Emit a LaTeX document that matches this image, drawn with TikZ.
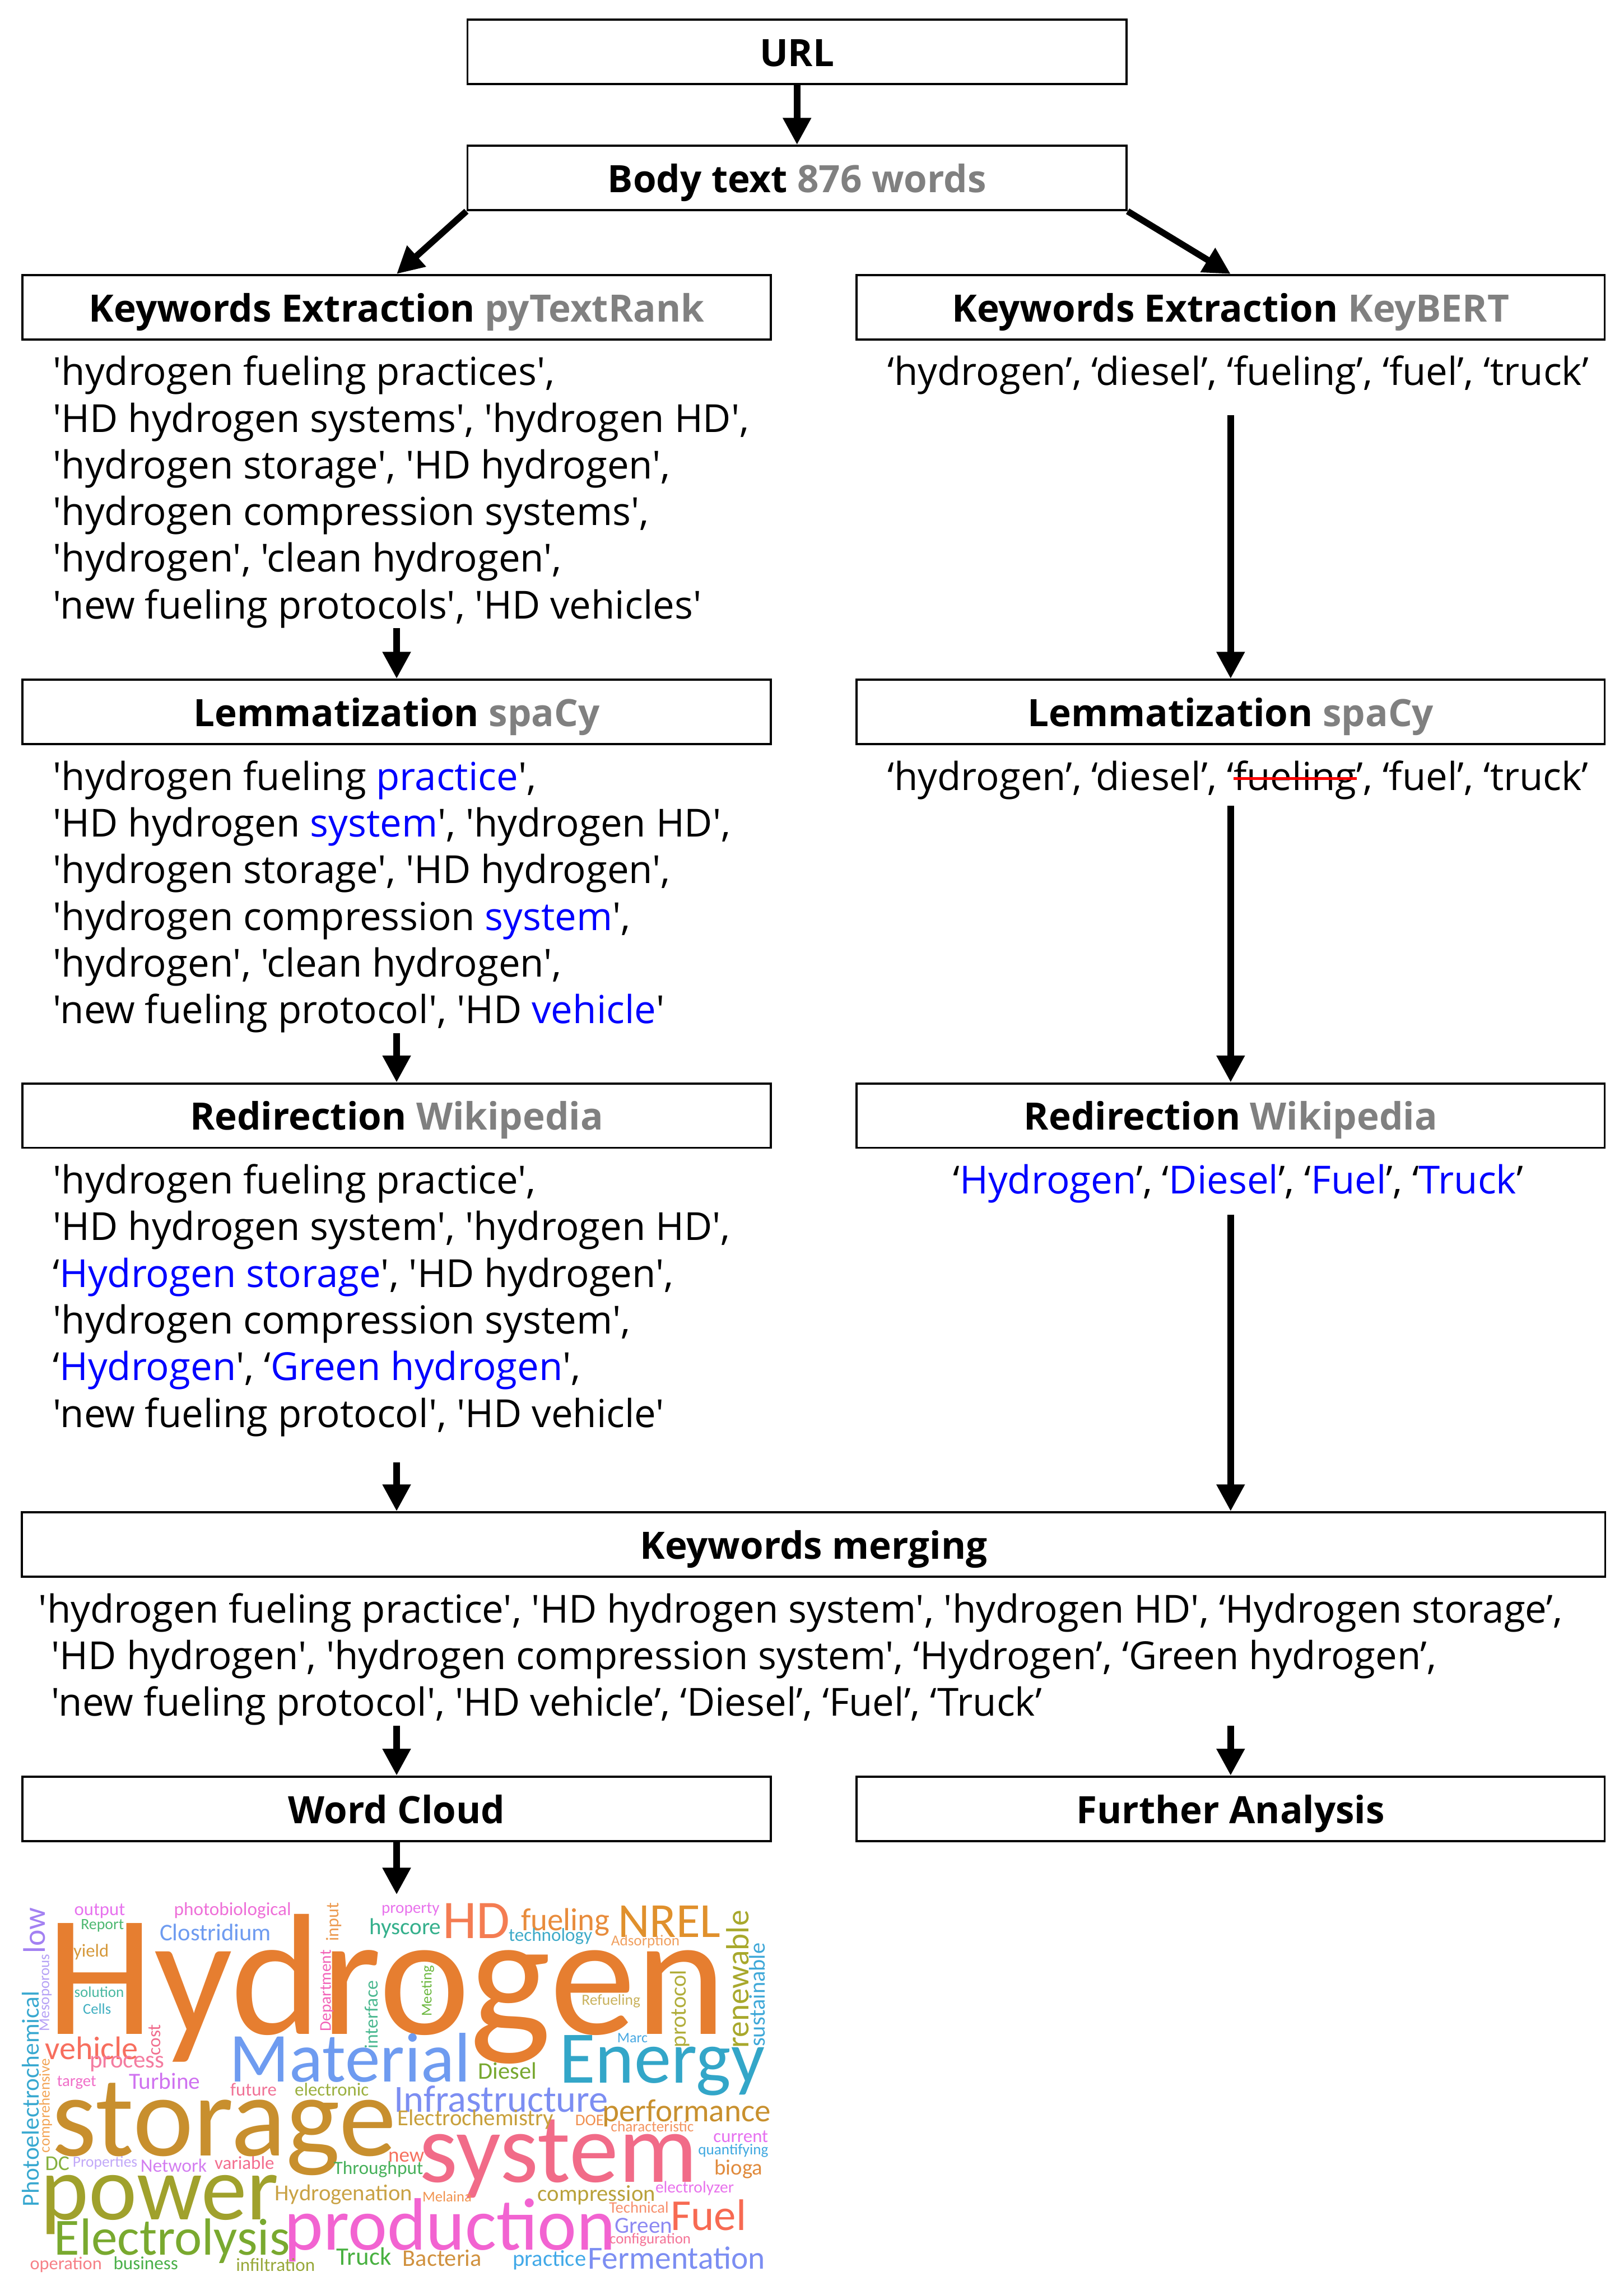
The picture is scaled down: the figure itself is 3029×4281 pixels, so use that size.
\documentclass[tikz,border=0pt]{standalone}
\usepackage{fontspec}
\usepackage{graphicx}
\usepackage{tikz}
\usetikzlibrary{positioning,arrows.meta}
\usepackage{xcolor}

\newfontfamily\uifont{Open Sans}
\newfontfamily\cloudfont{Carlito}

\definecolor{toolgray}{HTML}{808080}
\definecolor{chgblue}{HTML}{0000FF}
\definecolor{dropred}{HTML}{FF0000}

\newsavebox\dropbox
\newcommand{\toolname}[1]{\textcolor{toolgray}{#1}}
\newcommand{\renamed}[1]{\textcolor{chgblue}{#1}}
\newcommand{\dropped}[1]{\sbox\dropbox{#1}{\color{dropred}\rlap{\usebox\dropbox}\rule[0.27em]{\wd\dropbox}{0.06em}}}

\newlength\cloudpx
\setlength\cloudpx{0.0103cm}

\begin{document}
\begin{tikzpicture}[x=0.01cm, y=-0.01cm,
    stepbox/.style={draw, line width=0.04cm, minimum width=13.95cm, minimum height=1.2cm, inner sep=0,
        text height=0.6cm, text depth=0.06cm,
        font=\uifont\bfseries\fontsize{20pt}{24pt}\selectfont},
    kwtext/.style={inner sep=0, align=left, font=\uifont\fontsize{20.5pt}{24.75pt}\selectfont},
    arr/.style={line width=0.12cm, -{Triangle[length=0.5cm,width=0.5cm]}},
    cloudword/.style={inner sep=0, font=\cloudfont}]

    \useasboundingbox (0,0) rectangle (3029,4281);

    % Input
    \node[stepbox, minimum width=12.29cm] (url) at (1487,97) {URL};
    \node[stepbox, minimum width=12.29cm] (body) at (1487,332) {Body text \toolname{876 words}};

    % Keyword extraction
    \node[stepbox] (kwL) at (740,573) {Keywords Extraction \toolname{pyTextRank}};
    \node[stepbox] (kwR) at (2296,573) {Keywords Extraction \toolname{KeyBERT}};

    \node[kwtext, below=0.28cm of kwL.south west, anchor=north west, xshift=0.58cm] (kwtextL) {%
        'hydrogen fueling practices',\\
        'HD hydrogen systems', 'hydrogen HD',\\
        'hydrogen storage', 'HD hydrogen',\\
        'hydrogen compression systems',\\
        'hydrogen', 'clean hydrogen',\\
        'new fueling protocols', 'HD vehicles'};
    \node[kwtext, below=0.28cm of kwR, xshift=0.14cm] (kwtextR) {‘hydrogen’, ‘diesel’, ‘fueling’, ‘fuel’, ‘truck’};

    % Lemmatization
    \node[stepbox] (lemL) at (740,1328) {Lemmatization \toolname{spaCy}};
    \node[stepbox] (lemR) at (2296,1328) {Lemmatization \toolname{spaCy}};

    \node[kwtext, below=0.28cm of lemL.south west, anchor=north west, xshift=0.58cm] (lemtextL) {%
        'hydrogen fueling \renamed{practice}',\\
        'HD hydrogen \renamed{system}', 'hydrogen HD',\\
        'hydrogen storage', 'HD hydrogen',\\
        'hydrogen compression \renamed{system}',\\
        'hydrogen', 'clean hydrogen',\\
        'new fueling protocol', 'HD \renamed{vehicle}'};
    \node[kwtext, below=0.28cm of lemR, xshift=0.14cm] (lemtextR) {‘hydrogen’, ‘diesel’, ‘\dropped{fueling}’, ‘fuel’, ‘truck’};

    % Redirection
    \node[stepbox] (redL) at (740,2081) {Redirection \toolname{Wikipedia}};
    \node[stepbox] (redR) at (2296,2081) {Redirection \toolname{Wikipedia}};

    \node[kwtext, below=0.28cm of redL.south west, anchor=north west, xshift=0.58cm] (redtextL) {%
        'hydrogen fueling practice',\\
        'HD hydrogen system', 'hydrogen HD',\\
        ‘\renamed{Hydrogen storage}', 'HD hydrogen',\\
        'hydrogen compression system',\\
        ‘\renamed{Hydrogen}', ‘\renamed{Green hydrogen}',\\
        'new fueling protocol', 'HD vehicle'};
    \node[kwtext, below=0.28cm of redR, xshift=0.14cm] (redtextR) {‘\renamed{Hydrogen}’, ‘\renamed{Diesel}’, ‘\renamed{Fuel}’, ‘\renamed{Truck}’};

    % Merging
    \node[stepbox, minimum width=29.52cm] (merge) at (1518,2881) {Keywords merging};
    \node[kwtext, below=0.28cm of merge.south west, anchor=north west, xshift=0.32cm] (mtext) {%
        'hydrogen fueling practice', 'HD hydrogen system', 'hydrogen HD', ‘Hydrogen storage’,\\
        \hspace*{0.24cm}'HD hydrogen', 'hydrogen compression system', ‘Hydrogen’, ‘Green hydrogen’,\\
        \hspace*{0.24cm}'new fueling protocol', 'HD vehicle’, ‘Diesel’, ‘Fuel’, ‘Truck’};

    % Outputs
    \node[stepbox] (wc) at (740,3374) {Word Cloud};
    \node[stepbox] (fa) at (2296,3374) {Further Analysis};
    \coordinate (cloud) at (740,3534);

    % Word cloud
    \foreach \cx/\cy/\len/\ang/\hue/\word in {
        721/3710/1231/0/E67E30/Hydrogen, 653/3838/436/0/6E9BF0/Material, 1235/3853/372/0/33A6C8/Energy,
        418/3972/624/0/C88F2E/storage, 298/4113/431/0/A0A12C/power, 321/4180/427/0/79A92F/Electrolysis,
        1042/4027/503/0/F16B88/system, 840/4160/600/0/F263D1/production, 935/3915/388/0/7C8EF2/Infrastructure,
        1262/4212/321/0/7C8EF2/Fermentation, 1281/3942/305/0/C8902E/performance, 887/3953/283/0/C8A03C/Electrochemistry,
        889/3583/122/0/F47C52/HD, 1249/3584/186/0/E0902C/NREL, 1055/3585/161/0/E88C3C/fueling,
        1322/4132/137/0/F76A52/Fuel, 57/3915/390/90/38A8D0/Photoelectrochemical, 1376/3692/250/90/A8A82C/renewable,
        1413/3721/188/90/3FA8D8/sustainable, 1268/3747/140/90/B0AD3A/protocol, 947/3863/106/0/78A830/Diesel,
        171/3821/168/0/F76E5E/vehicle, 237/3850/135/0/F47CA0/process, 307/3882/129/0/CF72F0/Turbine,
        402/3605/202/0/6E9BF0/Clostridium, 434/3564/212/0/EE6FD8/photobiological, 186/3565/92/0/E772EE/output,
        64/3601/83/90/A381F2/low, 85/3717/140/90/B5A1F5/Mesoporous, 85/3928/170/90/F2A455/comprehensive,
        623/3585/70/90/EC9A50/input, 610/3713/147/90/F263B8/Department, 693/3758/123/90/4BB890/interface,
        798/3714/92/90/6CB840/Meeting, 289/3805/56/90/F06E8E/cost, 191/3592/78/0/4CB870/Report,
        170/3641/64/0/D5983A/yield, 185/3716/90/0/48B8A0/solution, 181/3747/51/0/3FAEC0/Cells,
        143/3885/71/0/F06FC8/target, 473/3898/84/0/F07296/future, 619/3898/134/0/9AAF3E/electronic,
        1180/3802/55/0/47A8E2/Marc, 1140/3733/106/0/C9B25E/Refueling, 766/3562/105/0/E872EC/property,
        756/3597/130/0/35B08C/hyscore, 1027/3612/151/0/3EAAC8/technology, 1204/3622/124/0/F0A060/Adsorption,
        1100/3955/52/0/F09050/DOE, 1217/3966/150/0/F39460/characteristic, 1382/3985/99/0/E670F0/current,
        1368/4012/127/0/3FA8E0/quantifying, 1378/4046/87/0/E08A3C/bioga, 1296/4082/142/0/E872EC/electrolyzer,
        1113/4095/213/0/B9A13A/compression, 834/4097/89/0/F19450/Melaina, 1192/4118/108/0/F7906E/Technical,
        1201/4152/104/0/8C89F2/Green, 1213/4178/147/0/F47396/configuration, 107/4036/44/0/86B03E/DC,
        196/4035/117/0/C1A8F8/Properties, 324/4039/120/0/D37EF0/Network, 456/4034/108/0/F36E8E/variable,
        706/4047/162/0/46B05A/Throughput, 758/4023/65/0/F6705E/new, 641/4094/249/0/C9A245/Hydrogenation,
        679/4209/99/0/48B040/Truck, 825/4212/143/0/D0913E/Bacteria, 1025/4216/133/0/41A9E8/practice,
        123/4224/130/0/F67F86/operation, 272/4222/117/0/4AB04A/business, 514/4225/143/0/98A83A/infiltration}
        \node[cloudword, rotate=\ang] (w-\word) at (\cx,\cy) {\textcolor[HTML]{\hue}{\resizebox{\len\cloudpx}{!}{\word}}};

    % Arrows
    \draw[arr] (url) -- (body);
    \draw[arr] (body.south west) -- (kwL.north);
    \draw[arr] (body.south east) -- (kwR.north);
    \draw[arr] (kwtextL.south -| kwL.south) -- (lemL);
    \draw[arr, shorten <=0.38cm] (kwtextR.south -| kwR.south) -- (lemR);
    \draw[arr] (lemtextL.south -| lemL.south) -- (redL);
    \draw[arr, shorten <=0.11cm] (lemtextR.south -| lemR.south) -- (redR);
    \draw[arr, shorten <=0.48cm] (redtextL.south -| redL.south) -- (merge.north -| redL.south);
    \draw[arr, shorten <=0.21cm] (redtextR.south -| redR.south) -- (merge.north -| redR.south);
    \draw[arr] (mtext.south -| wc.north) -- (wc);
    \draw[arr] (mtext.south -| fa.north) -- (fa);
    \draw[arr] (wc) -- (cloud);

\end{tikzpicture}
\end{document}
